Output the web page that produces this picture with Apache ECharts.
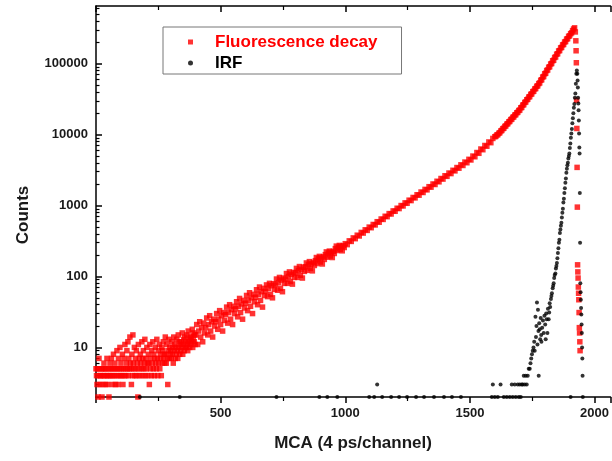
<!DOCTYPE html>
<html><head><meta charset="utf-8">
<script src="https://cdn.jsdelivr.net/npm/echarts@6/dist/echarts.min.js"></script>
<style>html,body{margin:0;padding:0;background:#fff}#c{width:612px;height:461px}</style>
</head><body><div id="c"></div>
<script>
// ---------- DATA ----------
const seriesNames = ['Fluorescence decay', 'IRF'];
const yMajorTicks = [10, 100, 1000, 10000, 100000];
const yMinorTicks = [2,3,4,5,6,7,8,9,20,30,40,50,60,70,80,90,200,300,400,500,600,700,800,900,
  2000,3000,4000,5000,6000,7000,8000,9000,20000,30000,40000,50000,60000,70000,80000,90000,
  200000,300000,400000,500000,600000];

// Fluorescence decay counts, channels 0..398 (every 2nd channel)
const decayLowStart = 0, decayLowStep = 2;
const decayLowCounts = [
  5,4,3,5,2,4,7,5,3,4,  4,5,2,3,5,4,6,4,5,3,  5,4,7,3,4,5,2,4,6,5,  4,7,5,3,4,8,5,4,6,3,
  5,4,9,5,3,7,4,5,10,4, 6,5,4,8,3,5,7,4,11,5, 4,6,9,5,12,4,7,5,14,6, 5,3,8,4,15,6,5,10,4,7,
  5,9,4,6,2,11,5,7,4,8, 6,5,12,4,7,9,5,6,13,4, 7,5,10,6,4,8,6,3,11,5, 7,4,9,6,12,5,8,4,7,10,
  6,5,13,7,4,9,6,11,5,8, 7,4,10,6,9,12,7,8,6,14, 8,6,11,7,3,9,13,7,10,8, 9,7,12,8,10,6,14,9,11,7,
  10,8,13,9,7,15,10,12,8,11, 9,12,10,16,8,11,13,9,14,10, 12,10,15,11,9,17,12,13,10,14, 11,14,12,18,10,13,16,12,15,11
];
// channels 400..996 (every 4th channel)
const decayMidStart = 400, decayMidStep = 4;
const decayMidCounts = [
  15,21,11,17,23,14,19,12,22,16,  19,26,15,21,28,17,23,14,25,20,  23,30,18,25,33,21,28,17,31,24,
  29,37,22,31,40,25,34,21,38,30,  35,44,27,38,49,31,41,25,46,36,  42,54,33,46,59,38,50,30,56,44,
  51,65,40,56,71,46,61,37,68,54,  62,76,52,68,80,56,74,50,79,66,  76,92,64,82,97,68,89,61,95,80,
  92,110,80,100,116,85,107,78,114,97,  112,130,97,121,138,104,126,95,135,118,  137,155,122,146,162,130,151,120,158,143,
  167,185,152,177,192,160,183,150,190,174,  203,222,187,214,228,194,220,185,226,211,  247,268,232,258,274,240,266,230,272,256
];
// channels 1000..1592 (every 8th channel)
const decayHighStart = 1000, decayHighStep = 8;
const decayHighCounts = [
  290,281,318,312,350,341,382,372,418,409,455,446,497,487,541,533,592,582,646,637,
  706,697,770,760,840,830,916,906,1000,987,1090,1076,1190,1174,1300,1283,1420,1399,1550,1527,
  1690,1664,1845,1815,2013,1980,2200,2160,2405,2360,2628,2580,2872,2820,3140,3080,3433,3360,3752,3670,
  4101,4010,4483,4390,4985,4870,5590,5450,6266,6120,7023,6860,7874,7690,8827
];
// channels 1600..1912 (every 4th channel)
const decayTopStart = 1600, decayTopStep = 4;
const decayTopCounts = [
  9330,9450,9879,9980,10460,10640,11260,11450,12120,12300,13050,13250,14050,14260,15120,15350,16280,16520,17520,17780,
  18860,19100,20310,20600,21860,22150,23860,24170,26040,26400,28420,28800,31010,31450,33850,34300,36940,37450,40320,40850,
  44000,44600,48020,48650,52410,53500,58260,59300,64770,65900,72000,73300,80050,81400,88990,90500,98930,100600,110000,111800,
  122300,124300,135900,138000,151100,153000,167000,169500,184000,186500,202000,205000,222000,225000,243000,247000,264000,272000,292000
];
// peak and falling edge of the decay
const decayPeakChannels = [1916,1920,1923,1925,1926,1927,1928,1929,1930,1931,1932,1933,1934,1935,1936,1937,1938,1939,1940,1941,1942];
const decayPeakCounts   = [308000,320000,280000,210000,152000,103000,30500,12200,3450,950,146,116,95,71,58,47,31,19,16,12,9];

// IRF (instrument response function)
const irfChannels = [
  176,336,724,896,928,968,1096,1116,1128,1148,1184,1216,1248,1284,1316,1356,1396,1428,1464,
  1588,1592,1600,1612,1623,1636,1648,1660,1668,1672,1680,1684,1692,1696,1700,1704,1708,1712,1716,1720,1724,1728,1732,
  1736,1740,1743,1746,1749,1752,1755,1758,1760,1763,1765,1767,1769,1771,1773,1775,1776,1778,1780,1782,1784,1786,1787,
  1790,1793,1796,1799,1802,1804,1806,1808,1811,1813,1816,1818,1820,1822,1825,1827,1829,1832,1834,1836,1838,1840,1843,
  1845,1847,1849,1851,1853,1855,1857,1859,1861,1863,1865,1867,1869,1871,1873,1875,1877,1879,1881,1883,1885,1887,1889,
  1891,1893,1895,1897,1899,1901,1903,1905,1907,1909,1911,1913,1915,1917,1919,1921,1923,1925,1927,1929,
  1931,1932,1933,1934,1935,1936,1937,1938,1939,1940,1941,1942,1943,1944,1945,1946,1947,1948,1949,1950,1951,1952,1953,1904
];
const irfCounts = [
  2,2,2,2,2,2,2,2,3,2,2,2,2,2,2,2,2,2,2,
  2,3,2,2,3,2,2,2,3,2,3,2,3,2,3,2,3,3,4,3,4,3,4,
  5,5,6,7,8,9,10,12,9,27,14,20,43,11,34,17,4,22,18,13,26,15,12,
  19,24,16,28,21,13,30,25,16,35,25,31,42,37,48,53,58,68,74,80,95,105,110,
  130,140,155,180,215,250,300,330,410,460,520,570,680,790,900,1100,1250,1500,1750,2100,2400,2900,3300,
  3700,4000,4600,5000,5400,6500,7500,9000,10400,12000,14400,17000,20000,24000,27000,33000,38000,52000,72000,80000,
  72000,58000,46000,33000,27500,22000,15800,10400,6600,5400,1500,300,80,60,47,36,29,21,16,10,7,4,2,2
];

// ---------- BUILD ----------
const decayData = [];
decayLowCounts.forEach((v, i) => decayData.push([decayLowStart + i * decayLowStep, v]));
decayMidCounts.forEach((v, i) => decayData.push([decayMidStart + i * decayMidStep, v]));
decayHighCounts.forEach((v, i) => decayData.push([decayHighStart + i * decayHighStep, v]));
decayTopCounts.forEach((v, i) => decayData.push([decayTopStart + i * decayTopStep, v]));
decayPeakChannels.forEach((c, i) => decayData.push([c, decayPeakCounts[i]]));
const irfData = irfChannels.map((c, i) => [c, irfCounts[i]]);

const FONT = 'Liberation Sans, Arial, sans-serif';
const TXT = '#1a1a1a';
const lineStyle = { color: '#000', width: 1.5 };

const chart = echarts.init(document.getElementById('c'), null, { renderer: 'canvas' });
chart.setOption({
  animation: false,
  backgroundColor: '#fff',
  grid: { left: 96, top: 6, width: 516, height: 391, containLabel: false },
  legend: {
    orient: 'vertical', left: 163, top: 27,
    padding: [5, 24, 1, 25], itemGap: 1,
    itemWidth: 5, itemHeight: 5,
    borderColor: '#777', borderWidth: 1, backgroundColor: '#fff',
    textStyle: { fontFamily: FONT, fontWeight: 'bold', fontSize: 17, lineHeight: 20, padding: [0, 0, 0, 17] },
    data: [
      { name: seriesNames[0], icon: 'rect', textStyle: { color: '#ff0000' } },
      { name: seriesNames[1], icon: 'circle', textStyle: { color: '#000' } }
    ]
  },
  xAxis: [{
    type: 'value', min: 0, max: 2064, interval: 500, position: 'bottom',
    axisLine: { show: true, onZero: false, lineStyle },
    axisTick: { show: true, inside: false, length: 6, lineStyle },
    minorTick: { show: true, splitNumber: 2, length: 4, lineStyle: { color: '#000', width: 1.2 } },
    splitLine: { show: false }, minorSplitLine: { show: false },
    axisLabel: { showMinLabel: false, showMaxLabel: false, margin: 10, fontFamily: FONT, fontWeight: 'bold', fontSize: 13, color: TXT,
      formatter: v => String(v) }
  }, {
    type: 'value', min: 0, max: 2064, interval: 500, position: 'top',
    axisLine: { show: true, onZero: false, lineStyle },
    axisTick: { show: true, inside: true, length: 6, lineStyle },
    minorTick: { show: true, splitNumber: 2, length: 4, lineStyle: { color: '#000', width: 1.2 } },
    splitLine: { show: false }, axisLabel: { show: false }
  }],
  yAxis: [{
    type: 'log', logBase: 10, min: 2, max: 650000, position: 'left',
    axisLine: { show: true, onZero: false, lineStyle },
    axisTick: { show: true, inside: true, length: 6, lineStyle, customValues: yMajorTicks },
    splitLine: { show: false },
    axisLabel: { customValues: yMajorTicks, margin: 8, fontFamily: FONT, fontWeight: 'bold', fontSize: 13, color: TXT,
      formatter: v => String(Math.round(v)) }
  }, {
    type: 'log', logBase: 10, min: 2, max: 650000, position: 'left',
    axisLine: { show: false },
    axisTick: { show: true, inside: true, length: 3.5, lineStyle: { color: '#000', width: 1.2 }, customValues: yMinorTicks },
    splitLine: { show: false },
    axisLabel: { show: false }
  }],
  graphic: [
    { type: 'text', x: 23, y: 215, rotation: Math.PI / 2,
      style: { text: 'Counts', fontFamily: FONT, fontWeight: 'bold', fontSize: 17, fill: TXT, align: 'center', verticalAlign: 'middle' } },
    { type: 'text', x: 353, y: 443,
      style: { text: 'MCA (4 ps/channel)', fontFamily: FONT, fontWeight: 'bold', fontSize: 17, fill: TXT, align: 'center', verticalAlign: 'middle' } }
  ],
  series: [{
    name: seriesNames[0], type: 'scatter', xAxisIndex: 0, yAxisIndex: 0,
    symbol: 'rect', symbolSize: 5.5, itemStyle: { color: '#ff0000' }, data: decayData, z: 2
  }, {
    name: seriesNames[1], type: 'scatter', xAxisIndex: 0, yAxisIndex: 0,
    symbol: 'circle', symbolSize: 4, itemStyle: { color: '#000' }, data: irfData, z: 3
  }]
});
</script>
</body></html>
